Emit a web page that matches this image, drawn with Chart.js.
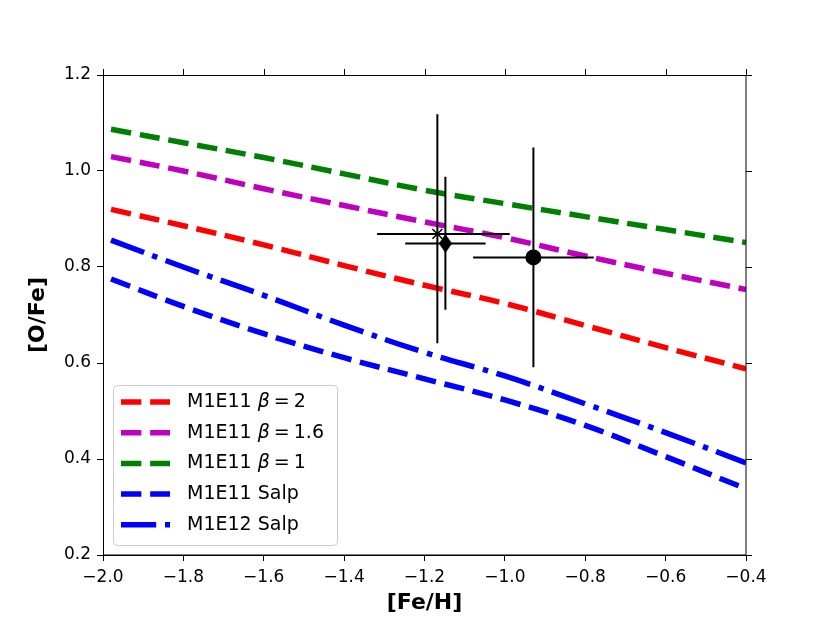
<!DOCTYPE html>
<html>
<head>
<meta charset="utf-8">
<script src="https://cdn.jsdelivr.net/npm/chart.js@4.4.1/dist/chart.umd.min.js"></script>
<style>
  html, body { margin: 0; padding: 0; background: #fff; }
  canvas { display: block; }
</style>
</head>
<body>
<canvas id="chart" width="830" height="623"></canvas>
<script>
// [O/Fe] vs [Fe/H] - model tracks with observed points

const feH = [-1.98, -1.8, -1.6, -1.4, -1.2, -1.0, -0.8, -0.6, -0.4];
const ofeBeta2 = [0.920, 0.886, 0.846, 0.803, 0.762, 0.724, 0.678, 0.632, 0.588];
const ofeBeta16 = [1.030, 1.000, 0.963, 0.928, 0.894, 0.861, 0.823, 0.787, 0.753];
const ofeBeta1 = [1.087, 1.059, 1.028, 0.994, 0.960, 0.932, 0.905, 0.878, 0.851];
const ofeM11Salp = [0.775, 0.718, 0.661, 0.611, 0.567, 0.523, 0.470, 0.405, 0.338];
const ofeM12Salp = [0.856, 0.800, 0.741, 0.679, 0.622, 0.573, 0.515, 0.455, 0.392];

const seriesNames = ['M1E11', 'M1E11', 'M1E11', 'M1E11 Salp', 'M1E12 Salp'];
const seriesBeta = ['2', '1.6', '1', null, null];

// observed points: x-marker, thin diamond, circle
const obsMarkers = ['x', 'diamond', 'circle'];
const obsFeH = [-1.168, -1.148, -0.929];
const obsFeHLo = [0.150, 0.100, 0.150];
const obsFeHHi = [0.180, 0.100, 0.150];
const obsOFe = [0.869, 0.849, 0.820];
const obsOFeLo = [0.228, 0.138, 0.229];
const obsOFeHi = [0.249, 0.139, 0.229];

const xTicks = { min: -2.0, max: -0.4, step: 0.2 };
const yTicks = { min: 0.2, max: 1.2, step: 0.2 };

Chart.defaults.font.family = "'DejaVu Sans', sans-serif";
Chart.defaults.color = '#000';

const LW = 5.5;
const DASH = [3.7 * LW, 1.6 * LW];
const DASHDOT = [6.4 * LW, 1.6 * LW, 1 * LW, 1.6 * LW];

const pts = ys => ys.map((y, i) => ({ x: feH[i], y }));

function lineSet(ys, color, dash) {
  return {
    data: pts(ys),
    borderColor: color,
    backgroundColor: color,
    borderWidth: LW,
    borderDash: dash,
    borderCapStyle: 'butt',
    pointRadius: 0,
    fill: false,
    tension: 0.4,
  };
}

// thin diamond marker as image
const diamond = document.createElement('canvas');
diamond.width = 13;
diamond.height = 19;
(() => {
  const c = diamond.getContext('2d');
  c.fillStyle = '#000';
  c.beginPath();
  c.moveTo(6.5, 0);
  c.lineTo(13, 9.5);
  c.lineTo(6.5, 19);
  c.lineTo(0, 9.5);
  c.closePath();
  c.fill();
})();

function markerSet(i) {
  const m = obsMarkers[i];
  const base = {
    data: [{ x: obsFeH[i], y: obsOFe[i] }],
    showLine: false,
    borderColor: '#000',
    backgroundColor: '#000',
  };
  if (m === 'circle') return { ...base, pointStyle: 'circle', pointRadius: 8, borderWidth: 0 };
  if (m === 'diamond') return { ...base, pointStyle: diamond, pointRadius: 9 };
  return { ...base, pointStyle: 'crossRot', pointRadius: 7, borderWidth: 1.5, backgroundColor: 'transparent' };
}

const colors = ['#ff0000', '#bf00bf', '#008000', '#0000ff', '#0000ff'];
const dashes = [DASH, DASH, DASH, DASH, DASHDOT];
const modelData = [ofeBeta2, ofeBeta16, ofeBeta1, ofeM11Salp, ofeM12Salp];

const datasets = [
  ...obsMarkers.map((_, i) => markerSet(i)),
  ...modelData.map((ys, i) => lineSet(ys, colors[i], dashes[i])),
];

const fmt = v => v.toFixed(1).replace('-', '\u2212');

const errorBars = {
  id: 'errorBars',
  afterDatasetsDraw(chart) {
    const { ctx, scales: { x, y } } = chart;
    ctx.save();
    ctx.strokeStyle = '#000';
    ctx.lineWidth = 2;
    obsFeH.forEach((fx, i) => {
      const px = x.getPixelForValue(fx);
      const py = y.getPixelForValue(obsOFe[i]);
      ctx.beginPath();
      ctx.moveTo(x.getPixelForValue(fx - obsFeHLo[i]), py);
      ctx.lineTo(x.getPixelForValue(fx + obsFeHHi[i]), py);
      ctx.moveTo(px, y.getPixelForValue(obsOFe[i] - obsOFeLo[i]));
      ctx.lineTo(px, y.getPixelForValue(obsOFe[i] + obsOFeHi[i]));
      ctx.stroke();
    });
    ctx.restore();
  },
};

const frame = {
  id: 'frame',
  afterDraw(chart) {
    const { ctx, chartArea: a, scales: { x, y } } = chart;
    ctx.save();
    ctx.strokeStyle = '#000';
    ctx.lineWidth = 1;
    ctx.strokeRect(a.left + 0.5, a.top + 0.5, a.right - a.left - 0.5, a.bottom - a.top - 0.5);
    ctx.beginPath();
    x.ticks.forEach(t => {
      const px = Math.round(x.getPixelForValue(t.value)) + 0.5;
      ctx.moveTo(px, a.top);
      ctx.lineTo(px, a.top - 6);
    });
    y.ticks.forEach(t => {
      const py = Math.round(y.getPixelForValue(t.value)) + 0.5;
      ctx.moveTo(a.right, py);
      ctx.lineTo(a.right + 6, py);
    });
    ctx.stroke();
    ctx.restore();
  },
};

const boxLegend = {
  id: 'boxLegend',
  afterDraw(chart) {
    const { ctx, chartArea: a } = chart;
    const w = 224, h = 160;
    const x0 = a.left + 10, y0 = a.bottom - 10 - h;
    ctx.save();
    ctx.fillStyle = 'rgba(255,255,255,0.8)';
    ctx.strokeStyle = '#cccccc';
    ctx.lineWidth = 1;
    ctx.beginPath();
    ctx.roundRect(x0 + 0.5, y0 + 0.5, w, h, 4);
    ctx.fill();
    ctx.stroke();

    ctx.textBaseline = 'middle';
    ctx.textAlign = 'left';
    seriesNames.forEach((name, i) => {
      const cy = y0 + 17 + i * 30.7;
      ctx.strokeStyle = colors[i];
      ctx.lineWidth = LW;
      ctx.lineCap = 'butt';
      ctx.setLineDash(dashes[i]);
      ctx.beginPath();
      ctx.moveTo(x0 + 8, cy);
      ctx.lineTo(x0 + 57, cy);
      ctx.stroke();
      ctx.setLineDash([]);

      ctx.fillStyle = '#000';
      let tx = x0 + 74;
      ctx.font = "19px 'DejaVu Sans'";
      const head = seriesBeta[i] !== null ? name + ' ' : name;
      ctx.fillText(head, tx, cy);
      tx += ctx.measureText(head).width;
      if (seriesBeta[i] !== null) {
        ctx.font = "italic 19px 'DejaVu Sans'";
        ctx.fillText('\u03B2', tx, cy);
        tx += ctx.measureText('\u03B2').width + 4;
        ctx.font = "19px 'DejaVu Sans'";
        ctx.fillText('=', tx, cy);
        tx += ctx.measureText('=').width + 4;
        ctx.fillText(seriesBeta[i], tx, cy);
      }
    });
    ctx.restore();
  },
};

new Chart(document.getElementById('chart'), {
  type: 'line',
  data: { datasets },
  options: {
    responsive: false,
    animation: false,
    layout: { padding: { left: 21, right: 84, top: 75, bottom: 3 } },
    plugins: { legend: { display: false }, tooltip: { enabled: false } },
    scales: {
      x: {
        type: 'linear',
        min: xTicks.min,
        max: xTicks.max,
        afterFit(s) { s.height = 65; },
        ticks: {
          stepSize: xTicks.step,
          padding: 6,
          font: { size: 17 },
          color: '#000',
          callback: v => fmt(v),
        },
        grid: { drawOnChartArea: false, drawTicks: true, tickLength: 6, tickColor: '#000' },
        border: { display: true, color: '#000', width: 1 },
        title: { display: true, text: '[Fe/H]', font: { size: 22, weight: 'bold' }, color: '#000' },
      },
      y: {
        type: 'linear',
        min: yTicks.min,
        max: yTicks.max,
        afterFit(s) { s.width = 82; },
        ticks: {
          stepSize: yTicks.step,
          padding: 6,
          font: { size: 17 },
          color: '#000',
          callback: v => fmt(v),
        },
        grid: { drawOnChartArea: false, drawTicks: true, tickLength: 6, tickColor: '#000' },
        border: { display: true, color: '#000', width: 1 },
        title: { display: true, text: '[O/Fe]', font: { size: 22, weight: 'bold' }, color: '#000' },
      },
    },
  },
  plugins: [errorBars, frame, boxLegend],
});
</script>
</body>
</html>
